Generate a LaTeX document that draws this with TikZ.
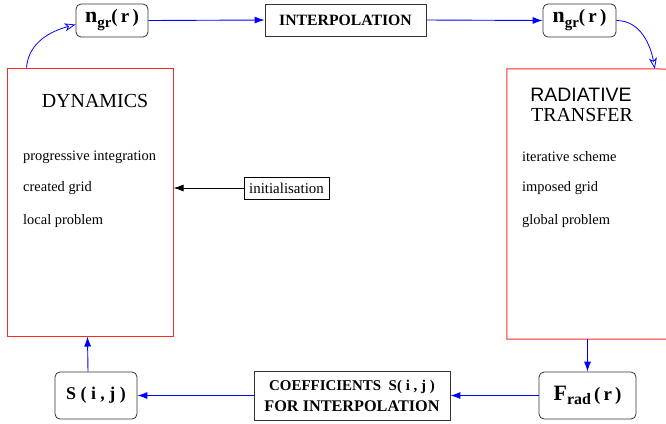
\documentclass[tikz,border=0pt]{standalone}
\usepackage{fontspec}
\setmainfont{Liberation Serif}
\newfontfamily\hv{Liberation Sans}
\usetikzlibrary{arrows.meta,calc}
\definecolor{boxred}{RGB}{255,40,40}
\tikzset{
  rbox/.style={draw=black!80, rounded corners=5bp, inner sep=0pt, font=\bfseries, line width=0.8bp},
  sbox/.style={draw=black!80, inner sep=0pt, font=\bfseries, line width=0.8bp},
  redbox/.style={draw=boxred, line width=1bp, inner sep=0pt},
  redline/.style={draw=boxred, line width=1bp},
  txt/.style={inner sep=0pt, anchor=west, font=\fontsize{14.5}{16}\selectfont},
  title/.style={inner sep=0pt, font=\fontsize{20}{20}\selectfont, align=center},
  barrow/.style={blue, line width=0.9bp, -{Latex[length=10bp,width=7bp]}},
  oarrow/.style={blue, line width=0.8bp, -{Stealth[open,length=11bp,width=8bp,inset=3bp]}},
  karrow/.style={black, line width=0.9bp, -{Latex[length=10bp,width=7bp]}}
}
\begin{document}
\begin{tikzpicture}[x=1bp,y=-1bp]
\useasboundingbox (0,0) rectangle (666,423);
% main boxes
\node[redbox, minimum width=165bp, minimum height=268bp] (dyn) at (90.5,202) {};
\node[inner sep=0pt, minimum width=161bp, minimum height=270bp] (rt) at (587.5,204) {};
\draw[redline] (666,69) -- (rt.north west) -- (rt.south west) -- (666,339);
\node[title] (dyntitle) at (95,101) {DYNAMICS};
\node[title, font=\hv\fontsize{19.5}{20}\selectfont] (rt1) at (581,95) {RADIATIVE};
\node[title] (rt2) at (582,115) {TRANSFER};
\node[txt] (d1) at (23,157) {progressive integration};
\node[txt] (d2) at (23,188) {created grid};
\node[txt] (d3) at (23,221) {local problem};
\node[txt] (r1) at (522,157) {iterative scheme};
\node[txt] (r2) at (522,188) {imposed grid};
\node[txt] (r3) at (522,221) {global problem};
% top row
\node[rbox, minimum width=72bp, minimum height=33bp] (n1) at (112,20.5)
  {\fontsize{22}{22}\selectfont n\raisebox{-5bp}{\fontsize{15}{15}\selectfont gr}\fontsize{19}{19}\selectfont(\,r\,)};
\node[sbox, minimum width=161bp, minimum height=32bp] (interp) at (345.5,20)
  {\fontsize{15.8}{16}\selectfont INTERPOLATION};
\node[rbox, minimum width=73bp, minimum height=33bp] (n2) at (579.5,20.5)
  {\fontsize{22}{22}\selectfont n\raisebox{-5bp}{\fontsize{15}{15}\selectfont gr}\fontsize{19}{19}\selectfont(\,r\,)};
% middle
\node[draw=black, line width=0.8bp, inner sep=0pt, minimum width=85bp, minimum height=22bp,
  font=\fontsize{15}{15}\selectfont] (init) at (286.5,188) {initialisation};
% bottom row
\node[rbox, minimum width=82bp, minimum height=47bp] (sij) at (96,395.5)
  {\fontsize{18}{18}\selectfont S ( i , j )};
\node[sbox, minimum width=196bp, minimum height=49bp, align=center] (coef) at (352,395.5)
  {\fontsize{15}{16}\selectfont COEFFICIENTS\ \ S( i , j )\\[6bp]\fontsize{16.3}{17}\selectfont FOR INTERPOLATION};
\node[rbox, minimum width=97bp, minimum height=47bp] (frad) at (587.5,395.5)
  {\fontsize{22}{22}\selectfont F\raisebox{-4bp}{\fontsize{16}{16}\selectfont rad}\fontsize{19}{19}\selectfont\,(\,r\,)};
% connectors
\coordinate (dtop) at ($(dyn.north west)+(19,0)$);
\coordinate (rtop) at ($(rt.north west)+(148,0)$);
\draw[oarrow] (dtop) to[out=85,in=195] ($(n1.west)+(0,4)$);
\draw[barrow] (n1.east) -- (interp.west);
\draw[barrow] (interp.east) -- (n2.west);
\draw[oarrow] (n2.east) to[out=0,in=100] (rtop);
\draw[barrow] (rt.south) -- (frad.north);
\draw[barrow] (frad.west) -- (coef.east);
\draw[barrow] (coef.west) -- (sij.east);
\draw[barrow] ($(sij.north)+(-8,0)$) -- ($(dyn.south west)+(80,0)$);
\draw[karrow] (init.west) -- (dyn.east |- init.west);
\end{tikzpicture}
\end{document}
